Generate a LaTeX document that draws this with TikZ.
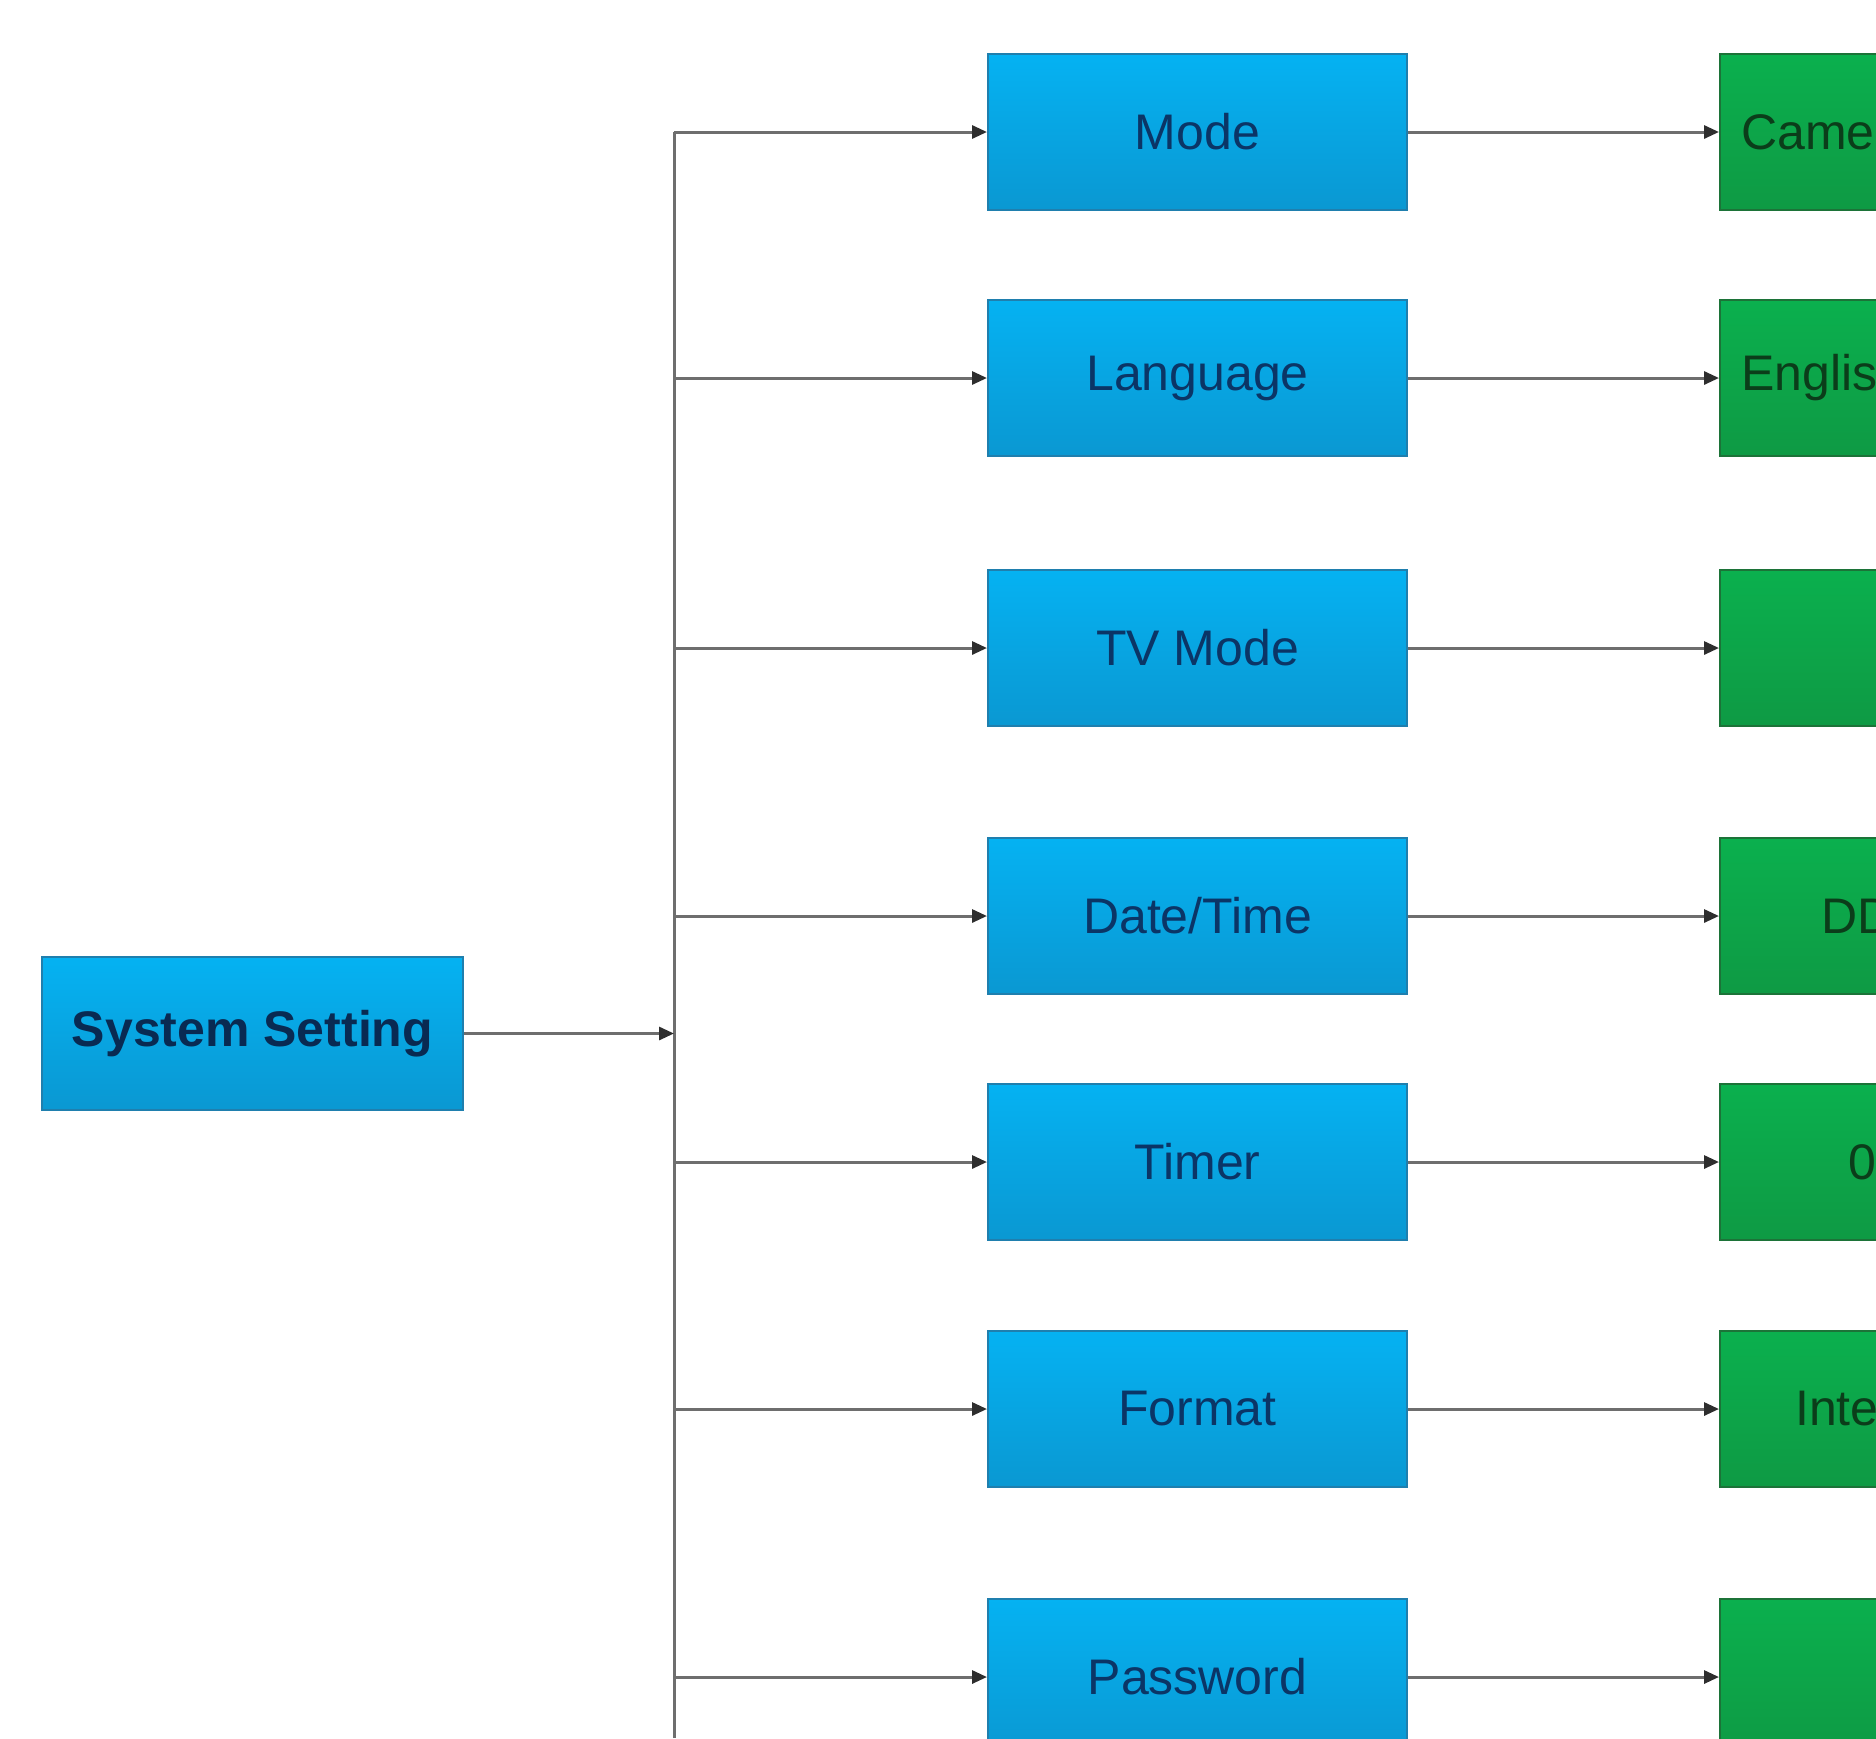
\documentclass[tikz,border=0pt]{standalone}
\usepackage{fontspec}
\setmainfont{Liberation Sans}
\usetikzlibrary{arrows.meta}
\definecolor{bluetop}{HTML}{05B2F2}
\definecolor{bluebot}{HTML}{0A98D2}
\definecolor{blueedge}{HTML}{1F7FAE}
\definecolor{bluetext}{HTML}{0B3566}
\definecolor{greentop}{HTML}{0BB04E}
\definecolor{greenbot}{HTML}{0E9A44}
\definecolor{greenedge}{HTML}{1C7338}
\definecolor{greentext}{HTML}{0B3D1A}
\definecolor{wire}{HTML}{6E6E6E}
\definecolor{tip}{HTML}{2E2E2E}
\begin{document}
\begin{tikzpicture}[x=1pt,y=-1pt,
  bluebox/.style={rectangle, draw=blueedge, line width=2pt, top color=bluetop, bottom color=bluebot,
    minimum width=419pt, minimum height=156pt, inner sep=0pt, text=bluetext,
    font=\fontsize{50}{60}\selectfont},
  greenbox/.style={rectangle, draw=greenedge, line width=2pt, top color=greentop, bottom color=greenbot,
    minimum width=419pt, minimum height=156pt, inner sep=0pt, anchor=west},
  greenlabel/.style={anchor=west, inner sep=0pt, text=greentext, font=\fontsize{50}{60}\selectfont},
  wireline/.style={draw=wire, line width=3pt},
  arrowline/.style={wireline, -{Triangle[length=15pt,width=13pt,fill=tip,color=tip]}}
]
\useasboundingbox (0,0) rectangle (1876,1738);
\clip (0,0) rectangle (1876,1738);

% root
\node[bluebox, minimum width=421pt, minimum height=153pt, text=bluetext!80!black,
  font=\fontsize{50}{60}\selectfont\bfseries] (sys) at (252.5,1033.5) {System Setting};

% bus
\coordinate (bustop) at (674,132);
\coordinate (busbot) at (674,1738);
\coordinate (busmid) at (674,1033.5);
\draw[wireline] (busbot) -- (bustop);
\draw[arrowline] (sys.east) -- (busmid);

% blue column
\node[bluebox] (mode) at (1197.5,132) {Mode};
\node[bluebox] (lang) at (1197.5,378) {Language};
\node[bluebox] (tv)   at (1197.5,648) {TV Mode};
\node[bluebox] (date) at (1197.5,916) {Date/Time};
\node[bluebox] (timer) at (1197.5,1162) {Timer};
\node[bluebox] (fmt)  at (1197.5,1409) {Format};
\node[bluebox] (pwd)  at (1197.5,1677) {Password};

% green column
\node[greenbox] (gmode) at (1719,132) {};
\node[greenbox] (glang) at (1719,378) {};
\node[greenbox] (gtv)   at (1719,648) {};
\node[greenbox] (gdate) at (1719,916) {};
\node[greenbox] (gtimer) at (1719,1162) {};
\node[greenbox] (gfmt)  at (1719,1409) {};
\node[greenbox] (gpwd)  at (1719,1677) {};

\node[greenlabel] (tmode) at (1741,132) {Came};
\node[greenlabel] (tlang) at (1741,378) {Englis};
\node[greenlabel] (tdate) at (1821,916) {DD};
\node[greenlabel] (ttimer) at (1848,1162) {0};
\node[greenlabel] (tfmt) at (1795,1409) {Inte};

% bus to blue
\foreach \n/\y in {mode/132,lang/378,tv/648,date/916,timer/1162,fmt/1409,pwd/1677}{
  \coordinate (b\n) at (674,\y);
  \draw[arrowline] (b\n) -- (\n.west);
}
% blue to green
\foreach \n in {mode,lang,tv,date,timer,fmt,pwd}{
  \draw[arrowline] (\n.east) -- (g\n.west);
}
\end{tikzpicture}
\end{document}
